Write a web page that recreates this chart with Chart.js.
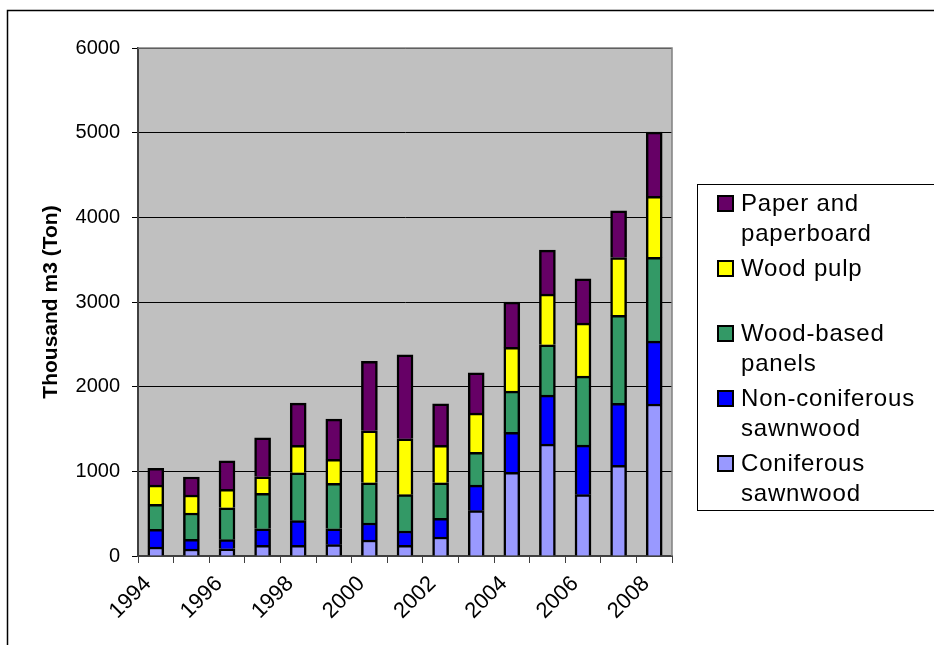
<!DOCTYPE html>
<html>
<head>
<meta charset="utf-8">
<script src="https://cdn.jsdelivr.net/npm/chart.js@4.4.1/dist/chart.umd.min.js"></script>
<style>
  html, body { margin: 0; padding: 0; background: #fff; }
  #wrap { position: relative; width: 934px; height: 645px; overflow: hidden; }
  #legend {
    position: absolute; left: 697px; top: 184px; width: 260px; height: 327px;
    border: 1.5px solid #000; box-sizing: border-box; padding: 3px 0 0 19px;
    font-family: 'Liberation Sans', Arial, sans-serif; font-size: 24px; letter-spacing: 0.8px;
    color: #000;
  }
  .item { display: flex; align-items: flex-start; margin-bottom: 5px; }
  .sw { width: 13px; height: 13px; border: 2px solid #000; margin-top: 7px; margin-right: 7px; flex: none; }
  .txt { white-space: pre-line; line-height: 30px; }
</style>
</head>
<body>
<div id="wrap">
  <canvas id="myChart" width="934" height="645"></canvas>
  <div id="legend"></div>
</div>
<script>
// categories
const years = ['1994', '1995', '1996', '1997', '1998', '1999', '2000', '2001',
               '2002', '2003', '2004', '2005', '2006', '2007', '2008'];

// series values (thousand m3)
const coniferous    = [106, 83, 86, 126, 126, 134, 189, 126, 224, 535, 988, 1322, 724, 1071, 1795];
const nonConiferous = [209, 114, 107, 196, 291, 188, 201, 169, 221, 303, 472, 579, 586, 732, 743];
const panels        = [295, 311, 377, 418, 566, 536, 475, 429, 420, 386, 488, 594, 815, 1039, 989];
const pulp          = [228, 212, 217, 196, 324, 283, 614, 661, 442, 464, 516, 598, 626, 684, 720];
const paper         = [197, 213, 338, 461, 499, 476, 819, 992, 491, 476, 535, 520, 523, 551, 759];

// legend text as it is broken in the picture
const seriesNames = ['Coniferous\nsawnwood', 'Non-coniferous\nsawnwood', 'Wood-based\npanels',
                     'Wood pulp\n\u00a0', 'Paper and\npaperboard'];
const seriesColors = ['#9999FF', '#0000FF', '#339966', '#FFFF00', '#660066'];
const seriesValues = [coniferous, nonConiferous, panels, pulp, paper];

// y axis ticks
const yMin = 0, yMax = 6000, yStep = 1000;

Chart.defaults.font.family = "'Liberation Sans', Arial, sans-serif";
Chart.defaults.color = '#000';

// gray plot area, outer frame
const plotBackground = {
    id: 'plotBackground',
    beforeDraw(chart) {
        const ctx = chart.ctx;
        const a = chart.chartArea;
        ctx.save();
        ctx.fillStyle = '#fff';
        ctx.fillRect(0, 0, chart.width, chart.height);
        ctx.strokeStyle = '#000';
        ctx.lineWidth = 1.5;
        ctx.strokeRect(7.5, 10.5, chart.width + 20, chart.height + 20);
        ctx.fillStyle = '#C0C0C0';
        ctx.fillRect(a.left, a.top, a.right - a.left, a.bottom - a.top);
        ctx.restore();
    },
    beforeDatasetsDraw(chart) {
        const ctx = chart.ctx;
        const a = chart.chartArea;
        ctx.save();
        ctx.strokeStyle = '#808080';
        ctx.lineWidth = 1.5;
        ctx.beginPath();
        ctx.moveTo(a.left, a.top);
        ctx.lineTo(a.right, a.top);
        ctx.lineTo(a.right, a.bottom);
        ctx.stroke();
        ctx.restore();
    }
};

const chart = new Chart(document.getElementById('myChart').getContext('2d'), {
    type: 'bar',
    data: {
        labels: years,
        datasets: seriesValues.map((vals, i) => ({
            label: seriesNames[i],
            data: vals,
            backgroundColor: seriesColors[i],
            borderColor: '#000',
            borderWidth: 2.5,
            barThickness: 16
        }))
    },
    options: {
        responsive: false,
        animation: false,
        layout: { padding: { top: 48, right: 262, bottom: 0, left: 0 } },
        plugins: {
            legend: { display: false },
            tooltip: { enabled: false }
        },
        scales: {
            x: {
                stacked: true,
                afterFit(scale) { scale.height = 89; },
                grid: { drawOnChartArea: false, tickLength: 7, color: '#404040', offset: true },
                border: { color: '#404040', width: 2 },
                ticks: {
                    autoSkip: false,
                    minRotation: 45,
                    maxRotation: 45,
                    padding: 8,
                    labelOffset: -8,
                    font: { size: 22 },
                    callback: (v, i) => (i % 2 === 0 ? years[i] : '')
                }
            },
            y: {
                stacked: true,
                min: yMin,
                max: yMax,
                afterFit(scale) { scale.width = 138; },
                grid: { color: '#000', lineWidth: 1, tickLength: 6 },
                border: { color: '#404040', width: 2 },
                ticks: { stepSize: yStep, padding: 12, font: { size: 20 }, callback: v => String(v) },
                title: {
                    display: true,
                    text: 'Thousand m3 (Ton)',
                    font: { size: 21, weight: 'bold' },
                    padding: { top: 39, bottom: 0 }
                }
            }
        }
    },
    plugins: [plotBackground]
});

// legend, top series first as in the picture
const legend = document.getElementById('legend');
chart.data.datasets.slice().reverse().forEach(ds => {
    const item = document.createElement('div');
    item.className = 'item';
    const sw = document.createElement('div');
    sw.className = 'sw';
    sw.style.background = ds.backgroundColor;
    const txt = document.createElement('div');
    txt.className = 'txt';
    txt.textContent = ds.label;
    item.appendChild(sw);
    item.appendChild(txt);
    legend.appendChild(item);
});
</script>
</body>
</html>
